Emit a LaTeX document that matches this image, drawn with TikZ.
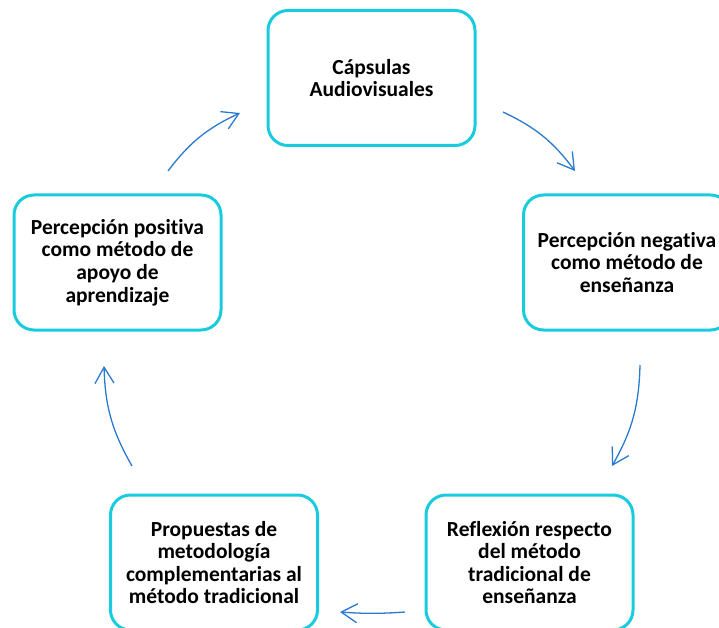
\documentclass[tikz,border=0pt]{standalone}
\usepackage{fontspec}
\setmainfont{Carlito}[Ligatures=NoCommon]
\usetikzlibrary{arrows.meta}

\definecolor{boxcyan}{RGB}{24,204,222}
\definecolor{arrowblue}{RGB}{42,122,208}

\begin{document}
\begin{tikzpicture}[x=1pt, y=1pt]
\tikzstyle{stage} = [rectangle, rounded corners=20pt, minimum width=207pt, minimum height=135pt, line width=3pt, draw=boxcyan, align=center, font=\bfseries\fontsize{21.5}{22.6}\selectfont]
\tikzstyle{connect} = [-{Straight Barb[length=16pt, width=19pt]}, line width=1.3pt, draw=arrowblue, bend left=14]
\clip (0,0) rectangle (719,627);
  \node[stage] (caps) at (371.5,549) {Cápsulas\\Audiovisuales};
  \node[stage] (neg) at (627,364.5) {Percepción negativa\\como método de\\enseñanza};
  \node[stage] (refl) at (529.5,64.5) {Reflexión respecto\\del método\\tradicional de\\enseñanza};
  \node[stage] (prop) at (214,64.5) {Propuestas de\\metodología\\complementarias al\\método tradicional};
  \node[stage] (pos) at (117.5,364.5) {Percepción positiva\\como método de\\apoyo de\\aprendizaje};
% free ends of the arrows between the stages
  \coordinate (a1) at (168,456); \coordinate (a2) at (240,514);
  \coordinate (b1) at (503,515); \coordinate (b2) at (575,456);
  \coordinate (c1) at (640,262); \coordinate (c2) at (612,161);
  \coordinate (d1) at (405,15);  \coordinate (d2) at (340,15);
  \coordinate (e1) at (132,161); \coordinate (e2) at (104,261);
\path (b1) edge [connect] (b2) (c1) edge [connect] (c2) (d1) edge [connect, bend left=4] (d2) (e1) edge [connect] (e2) (a1) edge [connect] (a2);
\end{tikzpicture}
\end{document}
